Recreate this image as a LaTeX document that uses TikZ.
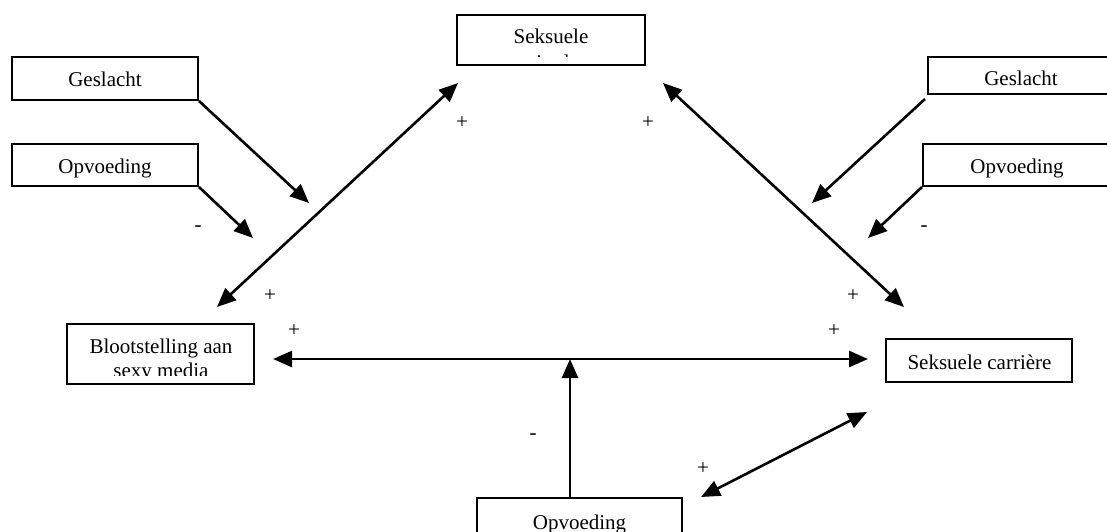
\documentclass[tikz,border=0pt]{standalone}
\usepackage{fontspec}
\setmainfont{Liberation Serif}
\usetikzlibrary{arrows.meta}
\begin{document}
\begin{tikzpicture}[x=1pt,y=-1pt,
  box/.style={draw, line width=2pt, rectangle, inner sep=0pt},
  lbl/.style={anchor=base, inner sep=0pt, font=\fontsize{21}{24}\selectfont},
  sign/.style={anchor=center, inner sep=0pt, font=\fontsize{21}{24}\selectfont},
  conn/.style={line width=2.6pt, -{Triangle[length=19pt,width=16pt]}},
  bconn/.style={line width=2.6pt, {Triangle[length=19pt,width=16pt]}-{Triangle[length=19pt,width=16pt]}}]
\clip (0,0) rectangle (1107,531);
\fill[white] (0,0) rectangle (1107,531);
% boxes
\node[box, minimum width=188pt, minimum height=50pt] (top) at (551,40) {};
\node[box, minimum width=186pt, minimum height=43pt] (lg) at (105,78.5) {};
\node[box, minimum width=186pt, minimum height=42pt] (lo) at (105,165) {};
\node[box, minimum width=202pt, minimum height=37pt] (rg) at (1029,75.5) {};
\node[box, minimum width=207pt, minimum height=42pt] (ro) at (1026.5,165) {};
\node[box, minimum width=187pt, minimum height=60pt] (bl) at (160.5,354) {};
\node[box, minimum width=186pt, minimum height=43pt] (sc) at (979,360.5) {};
\node[box, minimum width=205pt, minimum height=62pt] (bo) at (579.5,529) {};
% texts
\node[lbl] (topt) at (551,43) {Seksuele};
\begin{scope}
  \clip (460,18) rectangle (642,56.5);
  \node[lbl] (topt2) at (551,69) {attitudes};
\end{scope}
\node[lbl] (lgt) at (105,86) {Geslacht};
\node[lbl] (lot) at (105,173) {Opvoeding};
\node[lbl] (rgt) at (1021,85) {Geslacht};
\node[lbl] (rot) at (1017,173) {Opvoeding};
\node[lbl] (blt) at (161,353) {Blootstelling aan};
\begin{scope}
  \clip (70,327) rectangle (251,375);
  \node[lbl] (blt2) at (161,377) {sexy media};
\end{scope}
\node[lbl] (sct) at (979.5,369) {Seksuele carrière};
\node[lbl] (bot) at (579.5,529) {Opvoeding};
% free ends
\coordinate (lgE) at (309,203);
\coordinate (loE) at (253,238);
\coordinate (lA) at (217,307);
\coordinate (lB) at (458,83);
\coordinate (rA) at (663,83);
\coordinate (rB) at (904,307);
\coordinate (rgS) at (925,99);
\coordinate (rgE) at (812,203);
\coordinate (roE) at (868,238);
\coordinate (hA) at (273,359);
\coordinate (hB) at (868,359);
\coordinate (vS) at (570,498);
\coordinate (vE) at (570,359);
\coordinate (dA) at (701,497);
\coordinate (dB) at (867,412);
% connectors
\draw[conn] (lg.south east) -- (lgE);
\draw[conn] (lo.south east) -- (loE);
\draw[bconn] (lA) -- (lB);
\draw[bconn] (rA) -- (rB);
\draw[conn] (rgS) -- (rgE);
\draw[conn] (ro.south west) -- (roE);
\draw[bconn] (hA) -- (hB);
\draw[conn] (vS) -- (vE);
\draw[bconn] (dA) -- (dB);
% signs
\node[sign] (p1) at (462,123) {+};
\node[sign] (p2) at (648,123) {+};
\node[sign] (p3) at (270,296) {+};
\node[sign] (p4) at (294,331) {+};
\node[sign] (p5) at (853,296) {+};
\node[sign] (p6) at (834,331) {+};
\node[sign] (p7) at (703,469) {+};
\node[sign] (m1) at (198,229) {-};
\node[sign] (m2) at (924,229) {-};
\node[sign] (m3) at (533,437) {-};
\end{tikzpicture}
\end{document}
